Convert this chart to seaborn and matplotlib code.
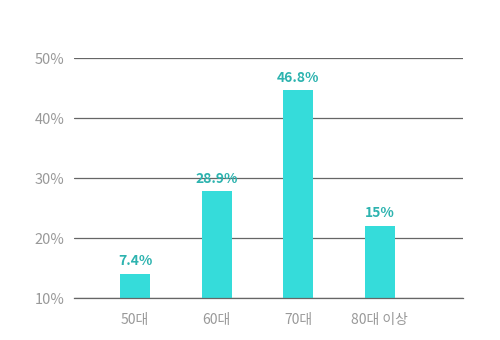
import matplotlib
matplotlib.use("Agg")
import matplotlib.pyplot as plt
import seaborn as sns
import pandas as pd

categories = ["50대", "60대", "70대", "80대 이상"]
bar_heights = [14.0, 27.8, 44.6, 22.0]
value_labels = ["7.4%", "28.9%", "46.8%", "15%"]
y_ticks = [10, 20, 30, 40, 50]
y_tick_labels = ["10%", "20%", "30%", "40%", "50%"]

sns.set_theme(style="white")
plt.rcParams["font.family"] = ["Noto Sans CJK KR", "DejaVu Sans"]

df = pd.DataFrame({"cat": categories, "val": bar_heights})

fig = plt.figure(figsize=(5, 3.4), dpi=100)
ax = fig.add_axes([0.148, 0.1235, 0.778, 0.7059])

sns.barplot(data=df, x="cat", y="val", color="#35DCDA", saturation=1,
            width=0.37, linewidth=0, ax=ax, zorder=3)
ax.set_ylim(10, 50)
ax.set_xlim(-0.75, 4.02)
ax.set_yticks(y_ticks)
ax.set_yticklabels(y_tick_labels)
ax.yaxis.grid(True, color="#666666", linewidth=0.9)
ax.set_axisbelow(True)
for s in ax.spines.values():
    s.set_visible(False)
ax.spines["bottom"].set_visible(True)
ax.spines["bottom"].set_color("#666666")
ax.spines["bottom"].set_linewidth(0.9)
ax.spines["bottom"].set_zorder(4)
ax.tick_params(axis="y", length=0, pad=7, labelsize=10.5, labelcolor="#999999")
ax.tick_params(axis="x", length=0, pad=11, labelsize=10, labelcolor="#999999")
ax.set_xlabel("")
ax.set_ylabel("")

for i, (h, lab) in enumerate(zip(bar_heights, value_labels)):
    ax.annotate(lab, (i, h), xytext=(0, 4), textcoords="offset points",
                ha="center", va="bottom", fontsize=10, fontweight="bold",
                color="#2DB3AF")

fig.savefig("out.png", dpi=100)
